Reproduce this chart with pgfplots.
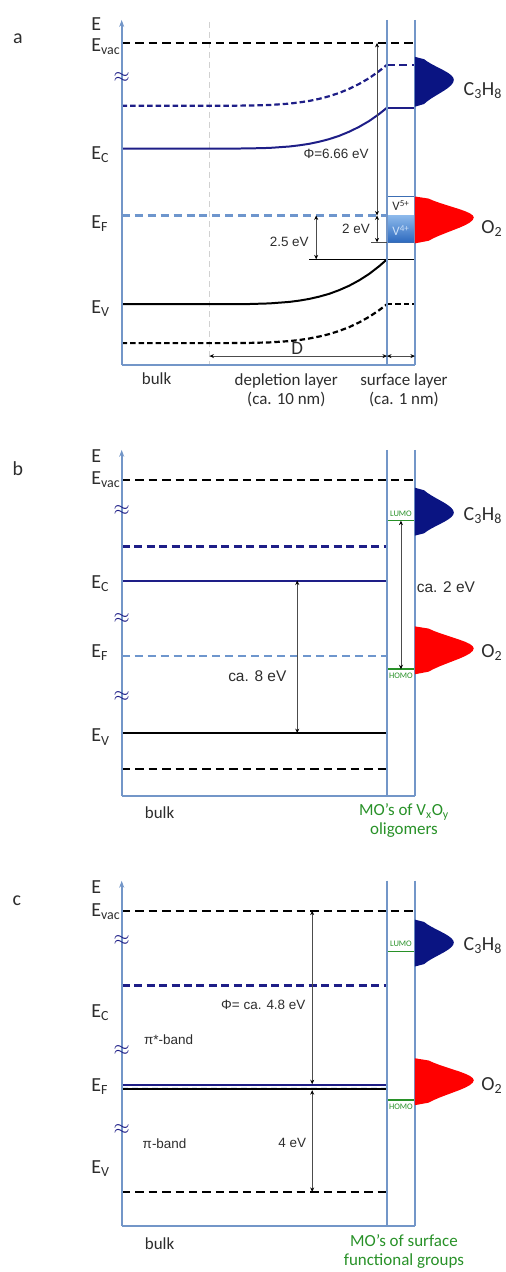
\documentclass[border=0pt]{standalone}
\usepackage{pgfplots}
\pgfplotsset{compat=1.18}
\usepackage{fontspec}
\setmainfont{Carlito}
\newfontfamily\arial{Liberation Sans}
\usetikzlibrary{arrows.meta}
\definecolor{frameblue}{RGB}{115,150,200}
\definecolor{navy}{RGB}{30,30,135}
\definecolor{efblue}{RGB}{110,150,205}
\definecolor{peakblue}{RGB}{10,20,130}
\definecolor{mogreen}{RGB}{40,145,40}
\definecolor{vborder}{RGB}{60,110,180}
\definecolor{txt}{RGB}{45,45,45}
\begin{document}
\begin{tikzpicture}
\begin{axis}[width=505pt,height=1272pt,scale only axis,
  xmin=0,xmax=505,ymin=0,ymax=1272,y dir=reverse,hide axis,clip=false]
\path (rel axis cs:0,0) rectangle (rel axis cs:1,1);
\tikzset{
  frame/.style={frameblue,line width=1.7pt},
  bdash/.style={black,line width=2.3pt,dash pattern=on 8.5pt off 5pt},
  ndash/.style={navy,line width=2.3pt,dash pattern=on 8pt off 4.5pt},
  cdash/.style={line width=2.2pt,dash pattern=on 5.5pt off 3pt,line join=round},
  fdash/.style={efblue,line width=2.3pt,dash pattern=on 8pt off 5pt},
  ecline/.style={navy,line width=2pt,line join=round},
  evline/.style={black,line width=2pt,line join=round},
  dim/.style={black!70,line width=0.8pt,{Stealth[length=4.5pt,width=4pt,black]}-{Stealth[length=4.5pt,width=4pt,black]}},
  lab/.style={font=\fontsize{20}{22}\selectfont,text=txt,anchor=west},
  bot/.style={font=\fontsize{17}{19}\selectfont,text=txt},
  ann/.style={font=\arial\fontsize{13.5}{15}\selectfont,text=txt},
  appr/.style={font=\fontsize{22}{22}\selectfont,text=navy},
}
% ================= PANEL A =================
\addplot[black!18,line width=1.4pt,dash pattern=on 6pt off 4pt] coordinates {(210,22)(210,366)};
\addplot[bdash] coordinates {(122,43)(416,43)};
\addplot[cdash,navy] coordinates {(122,106)(210,106)(230,106)(250,105.8)(270,105.3)(290,103.9)(300,102.7)(310,101.2)(320,99.1)(330,96.5)(340,93.2)(350,89.1)(360,84.2)(370,78.4)(380,71.4)(388,65)};
\addplot[ndash] coordinates {(388,65)(416,65)};
\addplot[ecline] coordinates {(122,149)(210,149)(230,149)(250,148.8)(270,148.3)(290,146.9)(300,145.7)(310,144.2)(320,142.1)(330,139.5)(340,136.2)(350,132.1)(360,127.2)(370,121.4)(380,114.4)(388,108)};
\addplot[ecline] coordinates {(388,108)(416,108)};
\addplot[fdash] coordinates {(122,216)(388,216)};
\addplot[evline] coordinates {(122,305)(210,305)(230,305)(250,304.8)(270,304.2)(290,302.7)(300,301.4)(310,299.7)(320,297.4)(330,294.6)(340,290.9)(350,286.5)(360,281.1)(370,274.7)(380,267)(388,260)};
\addplot[evline,line width=1.5pt] coordinates {(310,260)(416,260)};
\addplot[cdash,black] coordinates {(122,344)(210,344)(230,344)(250,343.8)(270,343.3)(290,342)(300,340.9)(310,339.4)(320,337.4)(330,335)(340,331.8)(350,328)(360,323.3)(370,317.7)(380,311.1)(388,305)};
\addplot[bdash,dash pattern=on 5.5pt off 3pt] coordinates {(388,305)(416,305)};
% V box
\addplot[fill=white,draw=none] coordinates {(388,197)(416,197)(416,216)(388,216)(388,197)};
\addplot[top color={rgb,255:red,140;green,185;blue,235},bottom color={rgb,255:red,45;green,105;blue,190},draw=none] coordinates {(388,216)(416,216)(416,243)(388,243)(388,216)};
\addplot[vborder,line width=1.4pt] coordinates {(388,197)(416,197)(416,243)(388,243)(388,197)};
\node[font=\fontsize{13}{13}\selectfont,text=txt] at (axis cs:402,206) {V\textsuperscript{5+}};
\node[font=\fontsize{13}{13}\selectfont,text={rgb,255:red,205;green,225;blue,248}] at (axis cs:402,231) {V\textsuperscript{4+}};
% frame
\addplot[frame,-{Stealth[length=7pt,width=5pt]}] coordinates {(122,366)(122,20)};
\addplot[frame] coordinates {(122,366)(416,366)};
\addplot[frame] coordinates {(388,20)(388,366)};
\addplot[frame] coordinates {(416,20)(416,366)};
% dimension arrows
\addplot[dim] coordinates {(378,43)(378,216)};
\addplot[dim] coordinates {(378,216)(378,243)};
\addplot[black!70,line width=0.8pt] coordinates {(372,243)(388,243)};
\addplot[dim] coordinates {(317,216)(317,260)};
\addplot[dim] coordinates {(210,357)(388,357)};
\addplot[dim] coordinates {(388,357)(416,357)};
% peaks
\addplot[fill=peakblue,draw=none] coordinates {(416,57)(425.1,59.3)(428.3,61.6)(432.1,63.9)(436.4,66.2)(440.9,68.5)(445.3,70.8)(449.2,73.1)(452.3,75.4)(454.3,77.7)(455,80)(454.3,82.7)(452.3,85.4)(449.2,88.1)(445.3,90.8)(440.9,93.5)(436.4,96.2)(432.1,98.9)(428.3,101.6)(425.1,104.3)(416,107)(416,57)};
\addplot[fill=red,draw=none] coordinates {(416,197)(429.7,199.1)(434.6,201.2)(440.4,203.3)(446.9,205.4)(453.6,207.5)(460.3,209.6)(466.2,211.7)(470.9,213.8)(473.9,215.9)(475,218)(473.9,220.6)(470.9,223.2)(466.2,225.8)(460.3,228.4)(453.6,231)(446.9,233.6)(440.4,236.2)(434.6,238.8)(429.7,241.4)(416,244)(416,197)};
% texts
\node[font=\fontsize{20}{22}\selectfont,text=txt] at (axis cs:18,39) {a};
\node[lab] at (axis cs:88,24) {E};
\node[lab] at (axis cs:88,47) {E\textsubscript{vac}};
\node[appr] at (axis cs:122,78) {$\approx$};
\node[lab] at (axis cs:88,155) {E\textsubscript{C}};
\node[lab] at (axis cs:88,224) {E\textsubscript{F}};
\node[lab] at (axis cs:88,309) {E\textsubscript{V}};
\node[ann] at (axis cs:337,154) {Φ=6.66 eV};
\node[ann] at (axis cs:357,229) {2 eV};
\node[ann] at (axis cs:290,242) {2.5 eV};
\node[font=\fontsize{19}{20}\selectfont,text=txt] at (axis cs:298,349) {D};
\node[font=\fontsize{20}{22}\selectfont,text=txt] at (axis cs:484,91) {C\textsubscript{3}H\textsubscript{8}};
\node[font=\fontsize{20}{22}\selectfont,text=txt] at (axis cs:493,229) {O\textsubscript{2}};
\node[bot] at (axis cs:157,380) {bulk};
\node[bot,align=center] at (axis cs:287,391) {depletion layer\\(ca. 10 nm)};
\node[bot,align=center] at (axis cs:405,391) {surface layer\\(ca. 1 nm)};
% ================= PANEL B =================
\addplot[bdash] coordinates {(122,481)(416,481)};
\addplot[ndash] coordinates {(122,548)(388,548)};
\addplot[ecline] coordinates {(122,582)(388,582)};
\addplot[fdash] coordinates {(122,658)(388,658)};
\addplot[evline] coordinates {(122,735)(388,735)};
\addplot[bdash] coordinates {(122,771)(388,771)};
\addplot[mogreen,line width=1.6pt] coordinates {(388,522)(416,522)};
\addplot[mogreen,line width=1.6pt] coordinates {(388,671)(416,671)};
\addplot[frame,-{Stealth[length=7pt,width=5pt]}] coordinates {(122,798)(122,451)};
\addplot[frame] coordinates {(122,798)(416,798)};
\addplot[frame] coordinates {(388,451)(388,798)};
\addplot[frame] coordinates {(416,451)(416,798)};
\addplot[dim] coordinates {(402,522)(402,671)};
\addplot[dim] coordinates {(298,582)(298,735)};
\addplot[fill=peakblue,draw=none] coordinates {(416,489)(425.1,491.5)(428.3,494)(432.1,496.5)(436.4,499)(440.9,501.5)(445.3,504)(449.2,506.5)(452.3,509)(454.3,511.5)(455,514)(454.3,516.3)(452.3,518.6)(449.2,520.9)(445.3,523.2)(440.9,525.5)(436.4,527.8)(432.1,530.1)(428.3,532.4)(425.1,534.7)(416,537)(416,489)};
\addplot[fill=red,draw=none] coordinates {(416,628)(429.7,630.2)(434.6,632.4)(440.4,634.6)(446.9,636.8)(453.6,639)(460.3,641.2)(466.2,643.4)(470.9,645.6)(473.9,647.8)(475,650)(473.9,652.6)(470.9,655.2)(466.2,657.8)(460.3,660.4)(453.6,663)(446.9,665.6)(440.4,668.2)(434.6,670.8)(429.7,673.4)(416,676)(416,628)};
\node[font=\fontsize{20}{22}\selectfont,text=txt] at (axis cs:18,470) {b};
\node[lab] at (axis cs:88,457) {E};
\node[lab] at (axis cs:88,481) {E\textsubscript{vac}};
\node[appr] at (axis cs:122,512) {$\approx$};
\node[appr] at (axis cs:122,620) {$\approx$};
\node[appr] at (axis cs:122,698) {$\approx$};
\node[lab] at (axis cs:88,585) {E\textsubscript{C}};
\node[lab] at (axis cs:88,654) {E\textsubscript{F}};
\node[lab] at (axis cs:88,739) {E\textsubscript{V}};
\node[font=\fontsize{8.5}{8.5}\selectfont,text=mogreen] at (axis cs:402,515) {LUMO};
\node[font=\fontsize{8.5}{8.5}\selectfont,text=mogreen] at (axis cs:402,678) {HOMO};
\node[ann,font=\arial\fontsize{15.5}{17}\selectfont] at (axis cs:447,589) {ca. 2 eV};
\node[ann,font=\arial\fontsize{15.5}{17}\selectfont] at (axis cs:258,678) {ca. 8 eV};
\node[font=\fontsize{20}{22}\selectfont,text=txt] at (axis cs:484,517) {C\textsubscript{3}H\textsubscript{8}};
\node[font=\fontsize{20}{22}\selectfont,text=txt] at (axis cs:493,654) {O\textsubscript{2}};
\node[bot] at (axis cs:160,815) {bulk};
\node[bot,text=mogreen,align=center] at (axis cs:405,823) {MO’s of V\textsubscript{x}O\textsubscript{y}\\oligomers};
% ================= PANEL C =================
\addplot[bdash] coordinates {(122,913)(416,913)};
\addplot[ndash] coordinates {(122,988)(388,988)};
\addplot[navy,line width=2.4pt] coordinates {(122,1087.8)(388,1087.8)};
\addplot[black,line width=2.2pt] coordinates {(122,1092.2)(388,1092.2)};
\addplot[white!75!efblue,line width=1.4pt,dash pattern=on 6pt off 4pt] coordinates {(122,1090)(388,1090)};
\addplot[bdash] coordinates {(122,1195)(388,1195)};
\addplot[mogreen,line width=1.6pt] coordinates {(388,954)(416,954)};
\addplot[mogreen,line width=1.6pt] coordinates {(388,1103)(416,1103)};
\addplot[frame,-{Stealth[length=7pt,width=5pt]}] coordinates {(122,1229)(122,883)};
\addplot[frame] coordinates {(122,1229)(416,1229)};
\addplot[frame] coordinates {(388,883)(388,1229)};
\addplot[frame] coordinates {(416,883)(416,1229)};
\addplot[dim] coordinates {(313,913)(313,1087)};
\addplot[dim] coordinates {(313,1093)(313,1195)};
\addplot[fill=peakblue,draw=none] coordinates {(416,922)(425.1,924.3)(428.3,926.6)(432.1,928.9)(436.4,931.2)(440.9,933.5)(445.3,935.8)(449.2,938.1)(452.3,940.4)(454.3,942.7)(455,945)(454.3,947.4)(452.3,949.8)(449.2,952.2)(445.3,954.6)(440.9,957)(436.4,959.4)(432.1,961.8)(428.3,964.2)(425.1,966.6)(416,969)(416,922)};
\addplot[fill=red,draw=none] coordinates {(416,1061)(429.7,1063.2)(434.6,1065.4)(440.4,1067.6)(446.9,1069.8)(453.6,1072)(460.3,1074.2)(466.2,1076.4)(470.9,1078.6)(473.9,1080.8)(475,1083)(473.9,1085.5)(470.9,1088)(466.2,1090.5)(460.3,1093)(453.6,1095.5)(446.9,1098)(440.4,1100.5)(434.6,1103)(429.7,1105.5)(416,1108)(416,1061)};
\node[font=\fontsize{20}{22}\selectfont,text=txt] at (axis cs:17,903) {c};
\node[lab] at (axis cs:88,889) {E};
\node[lab] at (axis cs:88,914) {E\textsubscript{vac}};
\node[appr] at (axis cs:122,943) {$\approx$};
\node[appr] at (axis cs:122,1053) {$\approx$};
\node[appr] at (axis cs:122,1132) {$\approx$};
\node[lab] at (axis cs:88,1015) {E\textsubscript{C}};
\node[lab] at (axis cs:88,1089) {E\textsubscript{F}};
\node[lab] at (axis cs:88,1172) {E\textsubscript{V}};
\node[font=\fontsize{8.5}{8.5}\selectfont,text=mogreen] at (axis cs:402,946) {LUMO};
\node[font=\fontsize{8.5}{8.5}\selectfont,text=mogreen] at (axis cs:402,1110) {HOMO};
\node[ann] at (axis cs:264,1007) {Φ= ca. 4.8 eV};
\node[ann] at (axis cs:169,1042) {π*-band};
\node[ann] at (axis cs:165,1147) {π-band};
\node[ann] at (axis cs:293,1146) {4 eV};
\node[font=\fontsize{20}{22}\selectfont,text=txt] at (axis cs:484,948) {C\textsubscript{3}H\textsubscript{8}};
\node[font=\fontsize{20}{22}\selectfont,text=txt] at (axis cs:493,1088) {O\textsubscript{2}};
\node[bot] at (axis cs:160,1247) {bulk};
\node[bot,text=mogreen,align=center] at (axis cs:405,1255) {MO’s of surface\\functional groups};
\end{axis}
\end{tikzpicture}
\end{document}
